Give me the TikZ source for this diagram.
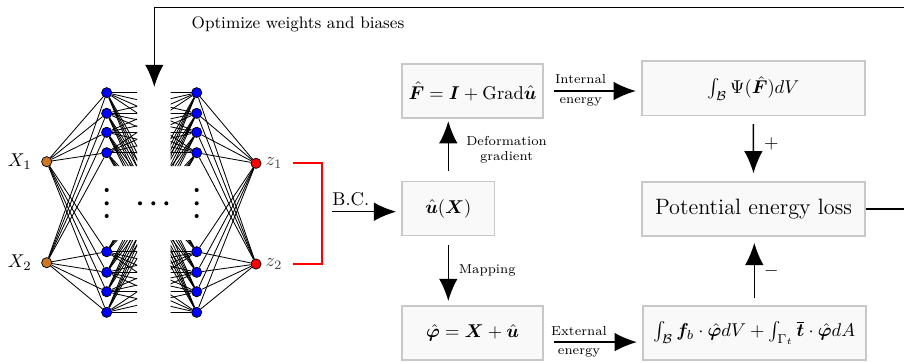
\documentclass[tikz,border=0pt]{standalone}
\usepackage{amsmath,bm}
\usetikzlibrary{arrows.meta}

\definecolor{inputorange}{RGB}{204,119,34}
\definecolor{boxfill}{RGB}{249,249,249}
\definecolor{boxline}{RGB}{200,200,200}

\tikzset{
  neuron/.style={circle, draw=black, fill=blue, inner sep=0pt, minimum size=5.5pt},
  edge/.style={line width=0.45pt},
  flowbox/.style={draw=boxline, fill=boxfill, line width=0.9pt, inner sep=2pt, minimum height=29.2pt},
  flowarrow/.style={-{Latex[length=12pt,width=10pt]}, line width=0.8pt},
  steplabel/.style={font=\scriptsize, align=center},
}

\begin{document}
\begin{tikzpicture}[x=0.54pt, y=-0.54pt]
    \useasboundingbox (0,0) rectangle (904,362);

    % network
    \node[neuron, fill=inputorange] (x1) at (46.7,161.7) {};
    \node[neuron, fill=inputorange] (x2) at (46.7,262.7) {};
    \node[anchor=east, inner sep=2pt] (x1lab) at ([xshift=-3pt]x1.west) {$X_1$};
    \node[anchor=east, inner sep=2pt] (x2lab) at ([xshift=-3pt]x2.west) {$X_2$};
    \foreach \i/\y in {1/92.7, 2/113.3, 3/132.3, 4/152.7, 5/251.7, 6/272.3, 7/291.7, 8/312.3} {
        \node[neuron] (h\i) at (106.7,\y) {};
        \node[neuron] (g\i) at (196.7,\y) {};
    }
    \node[neuron, fill=red] (z1) at (256,163.3) {};
    \node[neuron, fill=red] (z2) at (256,264) {};
    \node[anchor=west, inner sep=2pt, text=black!75] (z1lab) at (z1.east) {$z_1$};
    \node[anchor=west, inner sep=2pt, text=black!75] (z2lab) at (z2.east) {$z_2$};

    \foreach \i in {1,...,8} {
        \draw[edge] (x1) -- (h\i);
        \draw[edge] (x2) -- (h\i);
        \draw[edge] (g\i) -- (z1);
        \draw[edge] (g\i) -- (z2);
    }
    \begin{scope}
        \clip (106.7,85) rectangle (137,166) (106.7,240) rectangle (137,320)
              (170.7,85) rectangle (196.7,166) (170.7,240) rectangle (196.7,320);
        \foreach \i in {1,...,8}
            \foreach \j in {1,...,8}
                \draw[edge] (h\i) -- (g\j);
    \end{scope}

    % dots
    \foreach \y in {190,203.3,216} {
        \fill (106.7,\y) circle (1.1pt);
        \fill (196.7,\y) circle (1.1pt);
    }
    \foreach \x in {140,153.3,166.3}
        \fill (\x,203.3) circle (1.1pt);

    % boundary conditions
    \draw[red, line width=0.9pt] ([xshift=3.5pt]z1lab.east) -- ++(29,0) |- ([xshift=3.5pt]z2lab.east);

    % flow boxes
    \node[flowbox, minimum width=76pt] (gradF) at (472.5,91) {$\hat{\bm F}=\bm I+\mathrm{Grad}\hat{\bm u}$};
    \node[flowbox, minimum width=50pt] (uX) at (448.3,208.5) {$\hat{\bm u}(\bm X)$};
    \node[flowbox, minimum width=76pt] (phi) at (472.5,333) {$\hat{\bm\varphi}=\bm X+\hat{\bm u}$};
    \node[flowbox, minimum width=120.5pt] (psi) at (753.3,88.3) {$\int_{\mathcal B}\Psi(\hat{\bm F})dV$};
    \node[flowbox, minimum width=120.5pt, font=\large] (loss) at (753.5,209) {Potential energy loss};
    \node[flowbox, minimum width=120.5pt] (ext) at (754.3,333) {$\int_{\mathcal B}\bm f_b\cdot\hat{\bm\varphi}dV+\int_{\Gamma_t}\overline{\bm t}\cdot\hat{\bm\varphi}dA$};

    \coordinate (bcStart) at (331.7,211.7);
    \draw[flowarrow, shorten >=2.7pt] (bcStart) -- (bcStart -| uX.west)
        node[pos=0, anchor=south west, inner xsep=0pt, inner ysep=2.7pt] {B.C.};

    \draw[flowarrow, shorten <=5.4pt, shorten >=1.2pt] (uX.north) -- (uX.north |- gradF.south)
        node[midway, right, xshift=6pt, steplabel] {Deformation\\gradient};
    \draw[flowarrow, shorten <=4.9pt, shorten >=2.2pt] (uX.south) -- (uX.south |- phi.north)
        node[midway, right, xshift=2pt, steplabel] {Mapping};

    \draw[flowarrow, shorten <=5.4pt, shorten >=2.7pt] (gradF.east) -- (gradF.east -| psi.west)
        node[pos=0.38, above, steplabel] {Internal}
        node[pos=0.38, below, steplabel] {energy};
    \coordinate (extIn) at ([yshift=-4.9pt]ext.west);
    \draw[flowarrow, shorten <=5.4pt, shorten >=2.7pt] (phi.east |- extIn) -- (extIn)
        node[pos=0.36, above, steplabel] {External}
        node[pos=0.36, below, steplabel] {energy};

    \draw[flowarrow, shorten <=4.3pt, shorten >=4.2pt] (psi.south) -- (loss.north)
        node[pos=0.42, right, xshift=2pt] {$+$};
    \draw[flowarrow, shorten <=3.6pt, shorten >=3.2pt] (ext.north) -- (ext.north |- loss.south)
        node[midway, right, xshift=1.5pt] {$-$};

    % feedback loop
    \coordinate (loopTop) at (154.3,7.3);
    \coordinate (nnTop) at (154.3,87);
    \draw[flowarrow] (loss.east) -- ++(45,0) |- (loopTop) -- (nnTop);
    \node[font=\small] (optLabel) at (298,24) {Optimize weights and biases};
\end{tikzpicture}
\end{document}
